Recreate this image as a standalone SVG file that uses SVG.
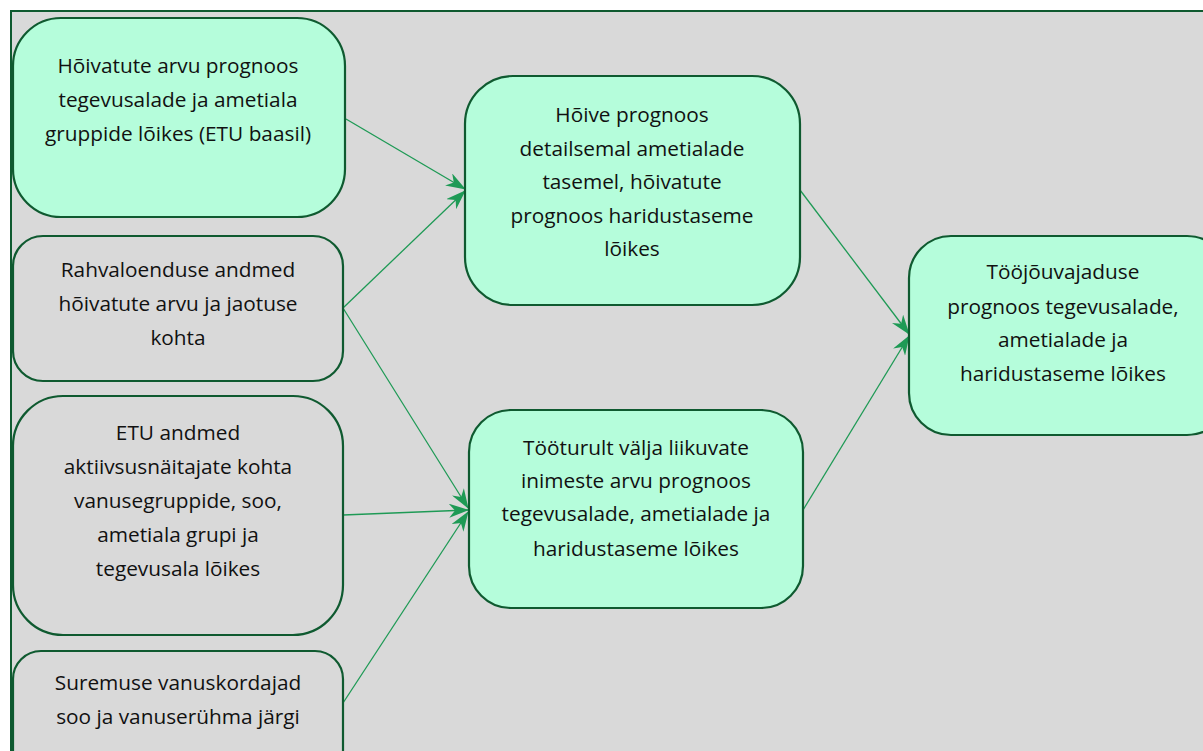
<svg xmlns="http://www.w3.org/2000/svg" width="1203" height="751" viewBox="0 0 1203 751">
<style>
.bg{fill:#d9d9d9;stroke:#0f5a30;stroke-width:2}
.g{fill:#b5fddb;stroke:#0f5a30;stroke-width:2.2}
.n{fill:#d9d9d9;stroke:#0f5a30;stroke-width:2.2}
text{font-family:"Open Sans",Lato,sans-serif;font-size:20.8px;fill:#111;text-anchor:middle;font-variant-ligatures:none}
.c{stroke:#1e9a55;stroke-width:1.3;fill:none;marker-end:url(#ah)}
</style>
<defs>
<marker id="ah" viewBox="0 0 20 14" refX="19" refY="7" markerWidth="20" markerHeight="14" markerUnits="userSpaceOnUse" orient="auto">
<path d="M0,0 L20,7 L0,14 L6,7 Z" fill="#1e9a55"/>
</marker>
</defs>
<rect x="0" y="0" width="1203" height="751" fill="#ffffff"/>
<rect class="bg" x="11" y="11" width="1200" height="750"/>
<g id="connectors">
<line class="c" x1="346" y1="119" x2="465" y2="189"/>
<line class="c" x1="343" y1="308" x2="465" y2="191"/>
<line class="c" x1="343" y1="308" x2="468" y2="508"/>
<line class="c" x1="343" y1="515" x2="468" y2="510"/>
<line class="c" x1="343" y1="703" x2="468" y2="512"/>
<line class="c" x1="800" y1="190" x2="909" y2="334"/>
<line class="c" x1="803" y1="510" x2="909" y2="336"/>
</g>
<g id="n1">
<rect class="g" x="13" y="18" width="332" height="199" rx="48"/>
<text x="178" y="73">Hõivatute arvu prognoos</text>
<text x="178" y="107">tegevusalade ja ametiala</text>
<text x="178" y="141">gruppide lõikes (ETU baasil)</text>
</g>
<g id="n2">
<rect class="n" x="13" y="236" width="330" height="145" rx="30"/>
<text x="178" y="277">Rahvaloenduse andmed</text>
<text x="178" y="311">hõivatute arvu ja jaotuse</text>
<text x="178" y="345">kohta</text>
</g>
<g id="n3">
<rect class="n" x="13" y="396" width="330" height="239" rx="50"/>
<text x="178" y="440">ETU andmed</text>
<text x="178" y="474">aktiivsusnäitajate kohta</text>
<text x="178" y="508">vanusegruppide, soo,</text>
<text x="178" y="542">ametiala grupi ja</text>
<text x="178" y="576">tegevusala lõikes</text>
</g>
<g id="n4">
<rect class="n" x="13" y="651" width="330" height="130" rx="28"/>
<text x="178" y="690">Suremuse vanuskordajad</text>
<text x="178" y="724">soo ja vanuserühma järgi</text>
</g>
<g id="n5">
<rect class="g" x="465" y="76" width="335" height="229" rx="48"/>
<text x="632" y="122">Hõive prognoos</text>
<text x="632" y="156">detailsemal ametialade</text>
<text x="632" y="189">tasemel, hõivatute</text>
<text x="632" y="223">prognoos haridustaseme</text>
<text x="632" y="256">lõikes</text>
</g>
<g id="n6">
<rect class="g" x="469" y="410" width="334" height="198" rx="42"/>
<text x="636" y="455">Tööturult välja liikuvate</text>
<text x="636" y="488">inimeste arvu prognoos</text>
<text x="636" y="521">tegevusalade, ametialade ja</text>
<text x="636" y="556">haridustaseme lõikes</text>
</g>
<g id="n7">
<rect class="g" x="909" y="236" width="320" height="199" rx="42"/>
<text x="1063" y="279">Tööjõuvajaduse</text>
<text x="1063" y="314">prognoos tegevusalade,</text>
<text x="1063" y="347">ametialade ja</text>
<text x="1063" y="381">haridustaseme lõikes</text>
</g>
</svg>
